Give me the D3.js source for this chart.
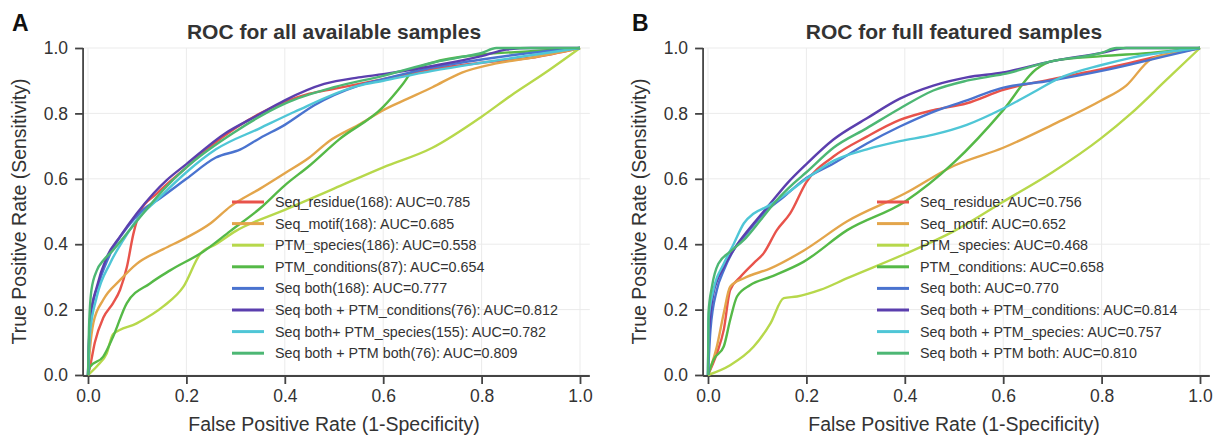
<!DOCTYPE html>
<html>
<head>
<meta charset="utf-8">
<script src="https://cdn.jsdelivr.net/npm/d3@7"></script>
<style>
  body { margin: 0; background: #fff; }
  text { font-family: "Liberation Sans", Arial, sans-serif; }
</style>
</head>
<body>
<div id="chart"></div>
<script>
const xTicks = [0, 0.2, 0.4, 0.6, 0.8, 1.0];
const yTicks = [0, 0.2, 0.4, 0.6, 0.8, 1.0];
const seriesColors = ["#e8534b", "#e3a54b", "#b7d84b", "#55b947", "#4a73cf", "#5b3fae", "#4fc6d6", "#4db774"];

const labelsA = [
    "Seq_residue(168): AUC=0.785",
    "Seq_motif(168): AUC=0.685",
    "PTM_species(186): AUC=0.558",
    "PTM_conditions(87): AUC=0.654",
    "Seq both(168): AUC=0.777",
    "Seq both + PTM_conditions(76): AUC=0.812",
    "Seq both+ PTM_species(155): AUC=0.782",
    "Seq both + PTM both(76): AUC=0.809"
];
const labelsB = [
    "Seq_residue: AUC=0.756",
    "Seq_motif: AUC=0.652",
    "PTM_species: AUC=0.468",
    "PTM_conditions: AUC=0.658",
    "Seq both: AUC=0.770",
    "Seq both + PTM_conditions: AUC=0.814",
    "Seq both + PTM_species: AUC=0.757",
    "Seq both + PTM both: AUC=0.810"
];

// panel A curves, points are [false positive rate, true positive rate]
const seqResidueA = [[0,0],[0.004,0.025],[0.014,0.1],[0.031,0.175],[0.051,0.22],[0.065,0.26],[0.079,0.33],[0.092,0.43],[0.106,0.5],[0.14,0.555],[0.2,0.635],[0.25,0.7],[0.3,0.755],[0.35,0.8],[0.4,0.835],[0.45,0.86],[0.5,0.875],[0.6,0.905],[0.7,0.935],[0.8,0.955],[0.9,0.97],[1,1]];
const seqMotifA = [[0,0],[0.004,0.08],[0.011,0.16],[0.031,0.23],[0.065,0.29],[0.099,0.34],[0.153,0.385],[0.2,0.42],[0.25,0.465],[0.289,0.515],[0.35,0.57],[0.4,0.617],[0.45,0.665],[0.49,0.715],[0.55,0.765],[0.6,0.81],[0.65,0.845],[0.7,0.88],[0.76,0.925],[0.83,0.953],[0.9,0.97],[1,1]];
const ptmSpeciesA = [[0,0],[0.02,0.03],[0.038,0.066],[0.051,0.125],[0.099,0.158],[0.153,0.21],[0.194,0.27],[0.228,0.37],[0.26,0.4],[0.3,0.44],[0.4,0.505],[0.5,0.57],[0.6,0.635],[0.7,0.695],[0.8,0.79],[0.86,0.855],[0.93,0.925],[1,1]];
const ptmConditionsA = [[0,0],[0.004,0.025],[0.031,0.056],[0.051,0.117],[0.079,0.22],[0.126,0.28],[0.167,0.32],[0.234,0.377],[0.289,0.44],[0.35,0.51],[0.4,0.58],[0.45,0.64],[0.51,0.72],[0.6,0.82],[0.64,0.89],[0.66,0.93],[0.7,0.955],[0.8,0.98],[0.9,0.99],[1,1]];
const seqBothA = [[0,0],[0.002,0.1],[0.007,0.19],[0.024,0.29],[0.045,0.37],[0.079,0.45],[0.112,0.505],[0.146,0.54],[0.2,0.6],[0.26,0.665],[0.31,0.69],[0.35,0.725],[0.4,0.765],[0.46,0.825],[0.55,0.885],[0.6,0.905],[0.7,0.94],[0.8,0.965],[0.9,0.985],[1,1]];
const seqBothCondA = [[0,0],[0.004,0.17],[0.018,0.27],[0.038,0.36],[0.065,0.423],[0.099,0.494],[0.133,0.555],[0.16,0.596],[0.2,0.645],[0.28,0.74],[0.34,0.79],[0.4,0.84],[0.48,0.89],[0.55,0.91],[0.6,0.92],[0.7,0.945],[0.8,0.975],[0.85,0.995],[0.9,1],[1,1]];
const seqBothSpeciesA = [[0,0],[0.004,0.127],[0.018,0.24],[0.045,0.342],[0.072,0.413],[0.099,0.474],[0.14,0.535],[0.2,0.62],[0.26,0.69],[0.35,0.755],[0.42,0.805],[0.55,0.885],[0.6,0.9],[0.7,0.93],[0.8,0.955],[0.9,0.978],[1,1]];
const seqBothPtmBothA = [[0,0],[0.002,0.14],[0.007,0.26],[0.018,0.32],[0.031,0.35],[0.051,0.382],[0.079,0.433],[0.112,0.494],[0.153,0.566],[0.2,0.635],[0.3,0.745],[0.4,0.83],[0.5,0.88],[0.6,0.915],[0.7,0.955],[0.75,0.97],[0.8,0.985],[0.83,1],[1,1]];

// panel B curves
const seqResidueB = [[0,0],[0.018,0.066],[0.032,0.138],[0.045,0.26],[0.066,0.3],[0.093,0.342],[0.113,0.372],[0.14,0.443],[0.167,0.494],[0.2,0.59],[0.255,0.668],[0.323,0.729],[0.39,0.78],[0.458,0.81],[0.526,0.831],[0.6,0.872],[0.7,0.905],[0.8,0.935],[0.86,0.955],[0.93,0.98],[1,1]];
const seqMotifB = [[0,0],[0.018,0.087],[0.032,0.189],[0.045,0.27],[0.073,0.296],[0.127,0.326],[0.194,0.38],[0.283,0.47],[0.4,0.555],[0.5,0.64],[0.6,0.695],[0.7,0.765],[0.8,0.84],[0.85,0.885],[0.9,0.965],[0.95,0.985],[1,1]];
const ptmSpeciesB = [[0,0],[0.045,0.03],[0.093,0.087],[0.127,0.158],[0.154,0.235],[0.181,0.24],[0.228,0.26],[0.283,0.296],[0.4,0.37],[0.5,0.44],[0.6,0.53],[0.7,0.62],[0.8,0.725],[0.86,0.8],[0.93,0.9],[1,1]];
const ptmConditionsB = [[0,0],[0.011,0.046],[0.032,0.087],[0.045,0.168],[0.059,0.24],[0.086,0.275],[0.127,0.3],[0.194,0.346],[0.283,0.443],[0.4,0.53],[0.5,0.65],[0.6,0.81],[0.667,0.935],[0.7,0.96],[0.8,0.975],[0.9,0.985],[1,1]];
const seqBothB = [[0,0],[0.005,0.138],[0.018,0.26],[0.032,0.32],[0.052,0.382],[0.079,0.433],[0.113,0.494],[0.154,0.545],[0.194,0.596],[0.255,0.647],[0.323,0.708],[0.39,0.76],[0.458,0.805],[0.526,0.84],[0.593,0.876],[0.695,0.9],[0.8,0.93],[0.86,0.95],[0.93,0.975],[1,1]];
const seqBothCondB = [[0,0],[0.001,0.107],[0.011,0.25],[0.032,0.33],[0.059,0.398],[0.093,0.464],[0.127,0.525],[0.161,0.586],[0.2,0.645],[0.255,0.72],[0.323,0.785],[0.39,0.845],[0.458,0.885],[0.526,0.91],[0.6,0.925],[0.7,0.96],[0.8,0.985],[0.85,1],[1,1]];
const seqBothSpeciesB = [[0,0],[0.001,0.168],[0.011,0.26],[0.032,0.34],[0.052,0.4],[0.073,0.464],[0.093,0.494],[0.12,0.515],[0.161,0.556],[0.2,0.6],[0.255,0.655],[0.323,0.69],[0.39,0.715],[0.458,0.735],[0.526,0.765],[0.6,0.815],[0.668,0.87],[0.71,0.905],[0.8,0.948],[0.86,0.97],[1,1]];
const seqBothPtmBothB = [[0,0],[0.001,0.19],[0.008,0.27],[0.021,0.34],[0.045,0.377],[0.073,0.413],[0.107,0.474],[0.14,0.535],[0.174,0.586],[0.2,0.62],[0.255,0.695],[0.323,0.755],[0.39,0.815],[0.458,0.87],[0.526,0.9],[0.6,0.92],[0.7,0.96],[0.8,0.985],[0.83,1],[1,1]];

const curvesA = [seqResidueA, seqMotifA, ptmSpeciesA, ptmConditionsA, seqBothA, seqBothCondA, seqBothSpeciesA, seqBothPtmBothA];
const curvesB = [seqResidueB, seqMotifB, ptmSpeciesB, ptmConditionsB, seqBothB, seqBothCondB, seqBothSpeciesB, seqBothPtmBothB];

const width = 1219, height = 436;
const axisColor = "#444", textColor = "#333", gridColor = "#ebebeb";

const svg = d3.select("#chart")
    .append("svg")
    .attr("width", width)
    .attr("height", height);

const panels = [
    { letter: "A", title: "ROC for all available samples", left: 88, labels: labelsA, curves: curvesA, legendX: 232 },
    { letter: "B", title: "ROC for full featured samples", left: 708, labels: labelsB, curves: curvesB, legendX: 877 }
];

panels.forEach(p => {
    const x = d3.scaleLinear().domain([0, 1]).range([p.left, p.left + 492]);
    const y = d3.scaleLinear().domain([0, 1]).range([375, 48]);
    const g = svg.append("g");

    // grid
    g.selectAll(".vgrid").data(xTicks).enter().append("line")
        .attr("x1", d => x(d)).attr("x2", d => x(d))
        .attr("y1", y(0)).attr("y2", y(1))
        .attr("stroke", gridColor).attr("stroke-width", 1);
    g.selectAll(".hgrid").data(yTicks).enter().append("line")
        .attr("x1", x(-0.01)).attr("x2", x(1.02))
        .attr("y1", d => y(d)).attr("y2", d => y(d))
        .attr("stroke", gridColor).attr("stroke-width", 1);

    // axes
    const xAxis = d3.axisBottom(x).tickValues(xTicks).tickFormat(d3.format(".1f")).tickSize(8).tickPadding(6);
    const yAxis = d3.axisLeft(y).tickValues(yTicks).tickFormat(d3.format(".1f")).tickSize(8).tickPadding(7);

    const gx = g.append("g").attr("transform", `translate(0,${y(0) + 1})`).call(xAxis);
    const gy = g.append("g").attr("transform", `translate(${x(-0.01)},0)`).call(yAxis);
    [gx, gy].forEach(a => {
        a.select(".domain").remove();
        a.selectAll(".tick line").attr("stroke", axisColor).attr("stroke-width", 1.8);
        a.selectAll(".tick text").attr("fill", textColor).style("font-size", "17.5px");
    });
    // spines
    g.append("line")
        .attr("x1", x(-0.01)).attr("x2", x(1.02))
        .attr("y1", y(0) + 1).attr("y2", y(0) + 1)
        .attr("stroke", axisColor).attr("stroke-width", 1.8);
    g.append("line")
        .attr("x1", x(-0.01)).attr("x2", x(-0.01))
        .attr("y1", y(0) + 1).attr("y2", y(1))
        .attr("stroke", axisColor).attr("stroke-width", 1.8);

    // curves
    const line = d3.line()
        .x(d => x(d[0]))
        .y(d => y(d[1]))
        .curve(d3.curveMonotoneX);
    p.curves.forEach((c, i) => {
        g.append("path")
            .datum(c)
            .attr("d", line)
            .attr("fill", "none")
            .attr("stroke", seriesColors[i])
            .attr("stroke-width", 2.4)
            .attr("stroke-linejoin", "round");
    });

    // legend
    const legend = g.append("g");
    p.labels.forEach((lab, i) => {
        const ly = 202 + i * 21.6;
        legend.append("line")
            .attr("x1", p.legendX).attr("x2", p.legendX + 32)
            .attr("y1", ly).attr("y2", ly)
            .attr("stroke", seriesColors[i]).attr("stroke-width", 3);
        legend.append("text")
            .attr("x", p.legendX + 43).attr("y", ly + 5)
            .attr("fill", textColor)
            .style("font-size", "14.3px")
            .text(lab);
    });

    // titles and labels
    g.append("text")
        .attr("x", x(0.5)).attr("y", 39)
        .attr("text-anchor", "middle")
        .attr("fill", textColor)
        .style("font-size", "21px").style("font-weight", "bold")
        .text(p.title);
    g.append("text")
        .attr("x", x(0) - 76).attr("y", 31)
        .attr("fill", "#111")
        .style("font-size", "23px").style("font-weight", "bold")
        .text(p.letter);
    g.append("text")
        .attr("x", x(0.5)).attr("y", 431)
        .attr("text-anchor", "middle")
        .attr("fill", textColor)
        .style("font-size", "19.5px")
        .text("False Positive Rate (1-Specificity)");
    g.append("text")
        .attr("transform", `translate(${x(0) - 62},${y(0.5)}) rotate(-90)`)
        .attr("text-anchor", "middle")
        .attr("fill", textColor)
        .style("font-size", "19.5px")
        .text("True Positive Rate (Sensitivity)");
});
</script>
</body>
</html>
